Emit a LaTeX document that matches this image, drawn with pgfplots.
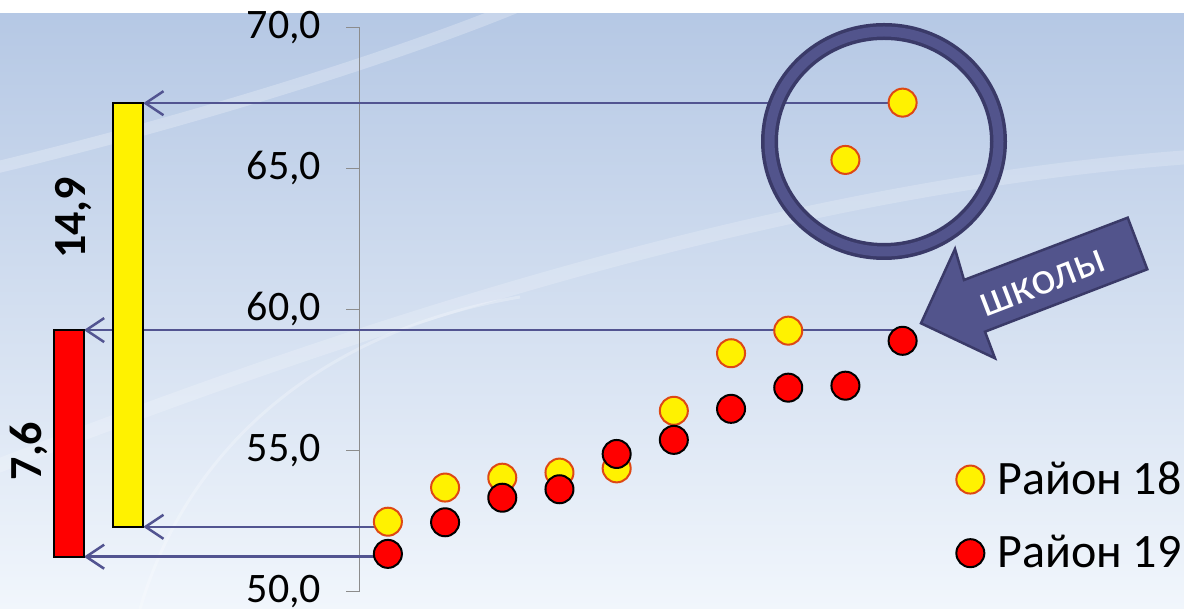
\documentclass[border=0pt]{standalone}
\usepackage{pgfplots}
\pgfplotsset{compat=1.18}
\usepackage{fontspec}
\setmainfont{Carlito}
\usetikzlibrary{arrows.meta}

\definecolor{bgtop}{RGB}{180,199,228}
\definecolor{bgmid}{RGB}{199,215,237}
\definecolor{bgbot}{RGB}{241,246,252}
\definecolor{axisgray}{RGB}{140,140,140}
\definecolor{linecol}{RGB}{82,84,145}
\definecolor{ringdark}{RGB}{58,58,104}
\definecolor{ringmid}{RGB}{82,84,140}
\definecolor{yedge}{RGB}{222,72,20}

\begin{document}
\begin{tikzpicture}[x=0.5pt,y=0.5pt]
% background, 1 unit = 1 px of the slide
\shade[top color=bgtop, middle color=bgmid, bottom color=bgbot] (0,0) rectangle (1184,609);
\draw[white, opacity=0.25, line width=6pt] (-10,440) .. controls (200,490) and (420,560) .. (540,612);
\draw[white, opacity=0.2, line width=7pt] (-10,140) .. controls (300,260) and (750,420) .. (1190,452);
\draw[white, opacity=0.25, line width=1.5pt] (140,0) .. controls (190,170) and (330,280) .. (520,312);
\fill[white] (0,596.3) rectangle (1184,609);

\begin{axis}[at={(179.65pt,8.65pt)}, anchor=south west,
  scale only axis, width=412.35pt, height=282.2pt,
  xmin=0.5, xmax=14.92, ymin=50, ymax=70, clip=false,
  axis x line=none, axis y line*=left,
  y axis line style={axisgray, line width=0.7pt},
  ytick={50,55,...,70}, tick align=outside, major tick length=6.5pt,
  ytick style={axisgray, line width=0.7pt},
  yticklabel style={font=\fontsize{21}{25}\selectfont, xshift=-9pt},
  legend style={draw=none, fill=none, at={(0.7162,0.1336)}, anchor=west,
    font=\fontsize{24}{29}\selectfont, row sep=19pt, column sep=6.5pt,
    nodes={inner sep=0pt}},
  legend cell align=left,
  legend image code/.code={\draw[#1] plot coordinates {(0pt,0pt)};},
  /pgf/number format/use comma, /pgf/number format/fixed,
  /pgf/number format/fixed zerofill, /pgf/number format/precision=1,
  /pgf/number format/assume math mode=true]

% Район 18
\addplot[only marks, mark=*, mark size=7pt,
  mark options={fill=yellow, draw=yedge, line width=1pt}]
  coordinates {(1,52.48) (2,53.69) (3,54.04) (4,54.22) (5,54.37)
               (6,56.41) (7,58.45) (8,59.25) (9,65.30) (10,67.33)};
\addlegendentry{Район 18}
% Район 19
\addplot[only marks, mark=*, mark size=7pt,
  mark options={fill=red, draw=black, line width=1pt}]
  coordinates {(1,51.34) (2,52.46) (3,53.33) (4,53.63) (5,54.88)
               (6,55.38) (7,56.48) (8,57.23) (9,57.30) (10,58.89)};
\addlegendentry{Район 19}

% min / max arrows to the range bars
\addplot[forget plot, linecol, line width=1.25pt, -{Straight Barb[length=9pt,width=12pt]}]
  coordinates {(9.93,59.27) (-4.315,59.27)};
\addplot[forget plot, linecol, line width=1.25pt, -{Straight Barb[length=9pt,width=12pt]}]
  coordinates {(1.25,51.24) (-4.315,51.24)};
\addplot[forget plot, linecol, line width=1.25pt, -{Straight Barb[length=9pt,width=12pt]}]
  coordinates {(10,67.31) (-3.278,67.31)};
\addplot[forget plot, linecol, line width=1.25pt, -{Straight Barb[length=9pt,width=12pt]}]
  coordinates {(0.98,52.30) (-3.278,52.30)};

% range bars
\addplot[forget plot, fill=red, draw=black, line width=0.9pt]
  coordinates {(-4.839,51.24) (-4.315,51.24) (-4.315,59.27) (-4.839,59.27)} -- cycle;
\addplot[forget plot, fill=yellow, draw=black, line width=0.9pt]
  coordinates {(-3.807,52.30) (-3.278,52.30) (-3.278,67.31) (-3.807,67.31)} -- cycle;
\end{axis}

\node[rotate=90, font=\fontsize{23}{28}\selectfont\bfseries] at (74,391) {14,9};
\node[rotate=90, font=\fontsize{23}{28}\selectfont\bfseries] at (29,158) {7,6};

% circle around the two top schools
\draw[ringdark, line width=8.5pt] (884,467.5) ellipse [x radius=114.5, y radius=110];
\draw[ringmid, line width=5pt] (884,467.5) ellipse [x radius=114.5, y radius=110];

% block arrow
\draw[fill=ringmid, draw=ringdark, line width=1.25pt, line join=miter]
  (921,285.7) -- (955,360) -- (964,329) -- (1127.7,391.3) -- (1147.3,339.7)
  -- (985,277.3) -- (995,250.7) -- cycle;
\node[white, rotate=21, font=\fontsize{23}{28}\selectfont] at (1043,325.7) {школы};

\pgfresetboundingbox
\useasboundingbox (0,0) rectangle (1184,609);
\end{tikzpicture}
\end{document}
